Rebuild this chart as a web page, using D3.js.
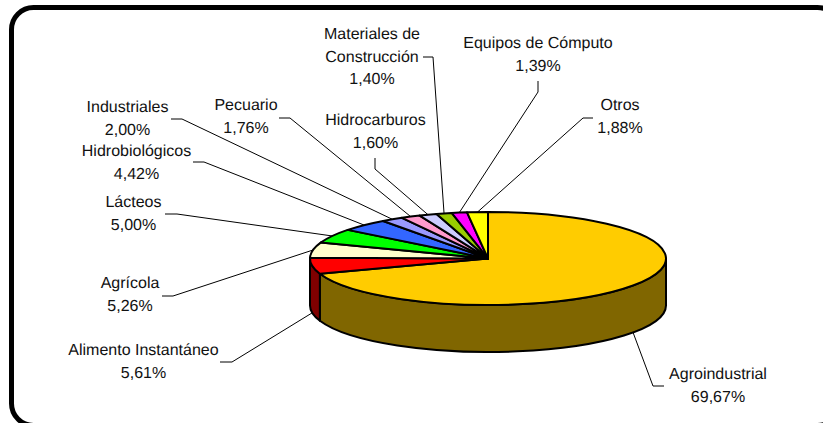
<!DOCTYPE html>
<html>
<head>
<meta charset="utf-8">
<script src="https://cdn.jsdelivr.net/npm/d3@7"></script>
<style>
html, body { margin: 0; padding: 0; background: #fff; overflow: hidden; }
svg { display: block; }
text { font-family: "Liberation Sans", Arial, sans-serif; font-size: 16px; fill: #111; text-rendering: geometricPrecision; }
</style>
</head>
<body>
<script>
// chart values
var categories = ["Agroindustrial", "Alimento Instantáneo", "Agrícola", "Lácteos", "Hidrobiológicos", "Industriales", "Pecuario", "Hidrocarburos", "Materiales de|Construcción", "Equipos de Cómputo", "Otros"];
var shares = [69.67, 5.61, 5.26, 5.00, 4.42, 2.00, 1.76, 1.60, 1.40, 1.39, 1.88];
var shareLabels = ["69,67%", "5,61%", "5,26%", "5,00%", "4,42%", "2,00%", "1,76%", "1,60%", "1,40%", "1,39%", "1,88%"];

// styles
var topColors = ["#FFCC00", "#FF0000", "#FFFFCC", "#00FF00", "#3366FF", "#9999FF", "#FF99CC", "#CCCCFF", "#99CC00", "#FF00FF", "#FFFF00"];
var wallColors = ["#806600", "#800000"];

// label layout: text centre x, first baseline y, leader start and elbow
var labelX = [718, 143.5, 130, 133.5, 136.5, 127.5, 246, 375.5, 372, 538, 620];
var labelY = [379, 355, 288, 207, 156, 112, 110, 125, 39, 48, 110];
var leaderStart = [[664, 386], [220, 362], [162, 296], [165, 214], [193, 162], [171, 119], [279, 118], [375, 158], [423, 57], [538, 81], [593, 118]];
var leaderElbow = [[653, 386], [232, 362], [173, 296], [177, 214], [204, 162], [182, 119], [290, 118], [375, 169], [433, 57], [538, 92], [583, 118]];

var width = 823;
var height = 423;
var cx = 488;
var cy = 258.5;
var rx = 178;
var ry = 46.5;
var depth = 47;
var lineGap = 22.5;

var svg = d3.select("body").append("svg")
    .attr("width", width)
    .attr("height", height);

// marco redondeado, se sale por la derecha y abajo
svg.append("rect")
    .attr("x", 11.5).attr("y", 7.5)
    .attr("width", 828).attr("height", 418)
    .attr("rx", 22).attr("ry", 22)
    .attr("fill", "#fff")
    .attr("stroke", "#000")
    .attr("stroke-width", 5);

var pie = d3.pie().sort(null).value(function (d) { return d; })
    .startAngle(0).endAngle(2 * Math.PI);
var slices = pie(shares);

function px(a) { return cx + rx * Math.sin(a); }
function py(a) { return cy - ry * Math.cos(a); }

// pared del cilindro: solo la mitad de abajo se ve
function wallPath(a0, a1) {
    var large = (a1 - a0) > Math.PI ? 1 : 0;
    return "M" + px(a0) + "," + py(a0) +
        "A" + rx + "," + ry + " 0 " + large + " 1 " + px(a1) + "," + py(a1) +
        "L" + px(a1) + "," + (py(a1) + depth) +
        "A" + rx + "," + ry + " 0 " + large + " 0 " + px(a0) + "," + (py(a0) + depth) + "Z";
}

var walls = slices.filter(function (d) {
    return d.startAngle < 1.5 * Math.PI && d.endAngle > Math.PI / 2;
});
svg.append("g").selectAll("path")
    .data(walls)
    .enter().append("path")
    .attr("d", function (d) {
        return wallPath(Math.max(d.startAngle, Math.PI / 2), Math.min(d.endAngle, 1.5 * Math.PI));
    })
    .attr("fill", function (d, i) { return wallColors[i]; })
    .attr("stroke", "#000")
    .attr("stroke-width", 2)
    .attr("stroke-linejoin", "round");

// cara superior
var arc = d3.arc().innerRadius(0).outerRadius(rx);
svg.append("g")
    .attr("transform", "translate(" + cx + "," + cy + ") scale(1," + (ry / rx) + ")")
    .selectAll("path")
    .data(slices)
    .enter().append("path")
    .attr("d", arc)
    .attr("fill", function (d, i) { return topColors[i]; })
    .attr("stroke", "#000")
    .attr("stroke-width", 2)
    .attr("stroke-linejoin", "round")
    .attr("vector-effect", "non-scaling-stroke");

// lineas guia
function leaderEnd(d) {
    var a = (d.startAngle + d.endAngle) / 2;
    var onWall = a > Math.PI / 2 && a < 1.5 * Math.PI;
    return [px(a), py(a) + (onWall ? depth : 0)];
}
var line = d3.line();
svg.append("g").selectAll("path")
    .data(slices)
    .enter().append("path")
    .attr("d", function (d, i) {
        return line([leaderStart[i], leaderElbow[i], leaderEnd(d)]);
    })
    .attr("fill", "none")
    .attr("stroke", "#000")
    .attr("stroke-width", 1);

// etiquetas
var labels = svg.append("g").selectAll("text")
    .data(categories)
    .enter().append("text")
    .attr("text-anchor", "middle")
    .attr("x", function (d, i) { return labelX[i]; })
    .attr("y", function (d, i) { return labelY[i]; });

labels.each(function (d, i) {
    var rows = d.split("|").concat(shareLabels[i]);
    d3.select(this).selectAll("tspan")
        .data(rows)
        .enter().append("tspan")
        .attr("x", labelX[i])
        .attr("y", function (r, j) { return labelY[i] + j * lineGap; })
        .text(function (r) { return r; });
});
</script>
</body>
</html>
